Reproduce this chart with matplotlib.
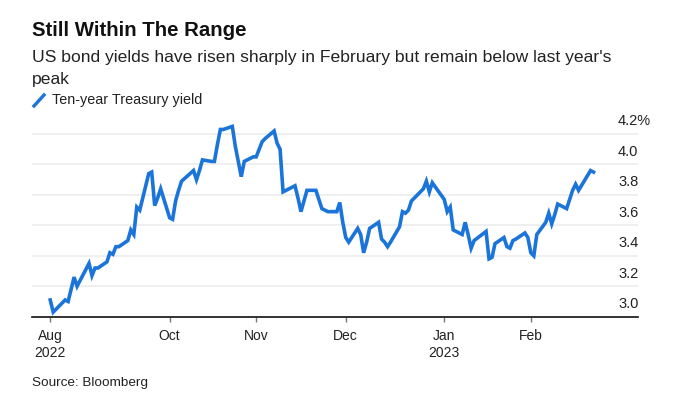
import matplotlib
matplotlib.use("Agg")
import matplotlib.pyplot as plt
import matplotlib.transforms as mtransforms
from matplotlib.lines import Line2D
import pandas as pd

plt.rcParams['font.family'] = ['Liberation Sans', 'DejaVu Sans']

# ten-year Treasury yield (%)
dates = [
    "2022-08-24", "2022-08-25", "2022-08-26", "2022-08-29", "2022-08-30", "2022-08-31",
    "2022-09-01", "2022-09-02", "2022-09-06", "2022-09-07", "2022-09-08", "2022-09-09",
    "2022-09-12", "2022-09-13", "2022-09-14", "2022-09-15", "2022-09-16", "2022-09-19",
    "2022-09-20", "2022-09-21", "2022-09-22", "2022-09-23", "2022-09-26", "2022-09-27",
    "2022-09-28", "2022-09-29", "2022-09-30", "2022-10-03", "2022-10-04", "2022-10-05",
    "2022-10-06", "2022-10-07", "2022-10-11", "2022-10-12", "2022-10-13", "2022-10-14",
    "2022-10-17", "2022-10-18", "2022-10-19", "2022-10-20", "2022-10-21", "2022-10-24",
    "2022-10-25", "2022-10-26", "2022-10-27", "2022-10-28", "2022-10-31", "2022-11-01",
    "2022-11-02", "2022-11-03", "2022-11-04", "2022-11-07", "2022-11-08", "2022-11-09",
    "2022-11-10", "2022-11-14", "2022-11-15", "2022-11-16", "2022-11-17", "2022-11-18",
    "2022-11-21", "2022-11-22", "2022-11-23", "2022-11-25", "2022-11-28", "2022-11-29",
    "2022-11-30", "2022-12-01", "2022-12-02", "2022-12-05", "2022-12-06", "2022-12-07",
    "2022-12-08", "2022-12-09", "2022-12-12", "2022-12-13", "2022-12-14", "2022-12-15",
    "2022-12-16", "2022-12-19", "2022-12-20", "2022-12-21", "2022-12-22", "2022-12-23",
    "2022-12-27", "2022-12-28", "2022-12-29", "2022-12-30", "2023-01-03", "2023-01-04",
    "2023-01-05", "2023-01-06", "2023-01-09", "2023-01-10", "2023-01-11", "2023-01-12",
    "2023-01-13", "2023-01-17", "2023-01-18", "2023-01-19", "2023-01-20", "2023-01-23",
    "2023-01-24", "2023-01-25", "2023-01-26", "2023-01-27", "2023-01-30", "2023-01-31",
    "2023-02-01", "2023-02-02", "2023-02-03", "2023-02-06", "2023-02-07", "2023-02-08",
    "2023-02-09", "2023-02-10", "2023-02-13", "2023-02-14", "2023-02-15", "2023-02-16",
    "2023-02-17", "2023-02-21", "2023-02-22",
]
yields = [
    3.11, 3.03, 3.05, 3.11, 3.10, 3.18,
    3.26, 3.20, 3.35, 3.27, 3.32, 3.32,
    3.36, 3.42, 3.41, 3.46, 3.46, 3.50,
    3.57, 3.54, 3.72, 3.70, 3.94, 3.95,
    3.73, 3.78, 3.84, 3.65, 3.64, 3.76,
    3.83, 3.89, 3.96, 3.90, 3.96, 4.03,
    4.02, 4.02, 4.13, 4.23, 4.23, 4.25,
    4.12, 4.02, 3.92, 4.02, 4.05, 4.05,
    4.10, 4.15, 4.17, 4.22, 4.14, 4.10,
    3.82, 3.86, 3.78, 3.69, 3.76, 3.83,
    3.83, 3.77, 3.71, 3.69, 3.69, 3.75,
    3.62, 3.52, 3.49, 3.58, 3.54, 3.42,
    3.49, 3.58, 3.62, 3.51, 3.49, 3.46,
    3.49, 3.59, 3.69, 3.68, 3.70, 3.76,
    3.84, 3.89, 3.82, 3.88, 3.77, 3.69,
    3.72, 3.57, 3.54, 3.62, 3.54, 3.45,
    3.50, 3.56, 3.38, 3.39, 3.48, 3.52,
    3.46, 3.45, 3.50, 3.51, 3.55, 3.52,
    3.42, 3.40, 3.54, 3.62, 3.68, 3.61,
    3.67, 3.74, 3.71, 3.77, 3.83, 3.87,
    3.83, 3.96, 3.95,
]

tick_dates = ["2022-08-24", "2022-10-03", "2022-11-01", "2022-12-01", "2023-01-03", "2023-02-01"]
tick_labels = ["Aug\n2022", "Oct", "Nov", "Dec", "Jan\n2023", "Feb"]
y_ticks = [3.0, 3.2, 3.4, 3.6, 3.8, 4.0, 4.2]
y_labels = ["3.0", "3.2", "3.4", "3.6", "3.8", "4.0", "4.2%"]

blue = "#1b74d9"
W, H = 673, 399

fig = plt.figure(figsize=(W / 100, H / 100), dpi=100)
fig.patch.set_facecolor("white")

# axes box in pixels: x 32..638, y 119..317
ax = fig.add_axes([32.3 / W, 1 - 316.7 / H, (638.3 - 32.3) / W, (316.7 - 118.8) / H])

x = pd.to_datetime(dates)
ax.plot(x, yields, color=blue, lw=2.6, solid_joinstyle="miter", zorder=3)

ax.set_ylim(3.0, 4.3)
ax.set_xlim(pd.Timestamp("2022-08-18"), pd.Timestamp("2023-03-09"))

for v in y_ticks[1:]:
    ax.axhline(v, color="#ebebeb", lw=1.1, zorder=1)

# y labels sit just above their gridline at the right
trans = mtransforms.blended_transform_factory(ax.transAxes, ax.transData)
trans = mtransforms.offset_copy(trans, fig=fig, y=6.3, units="points")
for v, lab in zip(y_ticks, y_labels):
    ax.text(0.9665, v, lab, transform=trans, ha="left", va="baseline",
            fontsize=10.5, color="#222222")

ax.set_yticks([])
ax.set_xticks(pd.to_datetime(tick_dates))
ax.set_xticklabels(tick_labels, fontsize=10, color="#222222", linespacing=1.25)
ax.tick_params(axis="x", length=3.8, width=1.0, color="#777777", pad=5)

for s in ["top", "right", "left"]:
    ax.spines[s].set_visible(False)
ax.spines["bottom"].set_color("#111111")
ax.spines["bottom"].set_linewidth(1.2)
ax.spines["bottom"].set_zorder(4)

# headings
fig.text(32 / W, 1 - 30 / H, "Still Within The Range", fontsize=14.7,
         fontweight="bold", color="#111111", va="center", ha="left")
fig.text(32 / W, 1 - 68.5 / H,
         "US bond yields have risen sharply in February but remain below last year's\npeak",
         fontsize=12.6, color="#222222", va="center", ha="left", linespacing=1.52)

# legend
fig.add_artist(Line2D([34 / W, 44 / W], [1 - 106 / H, 1 - 95 / H], color=blue, lw=2.4,
                      transform=fig.transFigure))
fig.text(52 / W, 1 - 100 / H, "Ten-year Treasury yield", fontsize=10.4,
         color="#222222", va="center", ha="left")

fig.text(32 / W, 1 - 383 / H, "Source: Bloomberg", fontsize=9.7,
         color="#222222", va="center", ha="left")

fig.savefig("out.png", dpi=100, facecolor="white")
